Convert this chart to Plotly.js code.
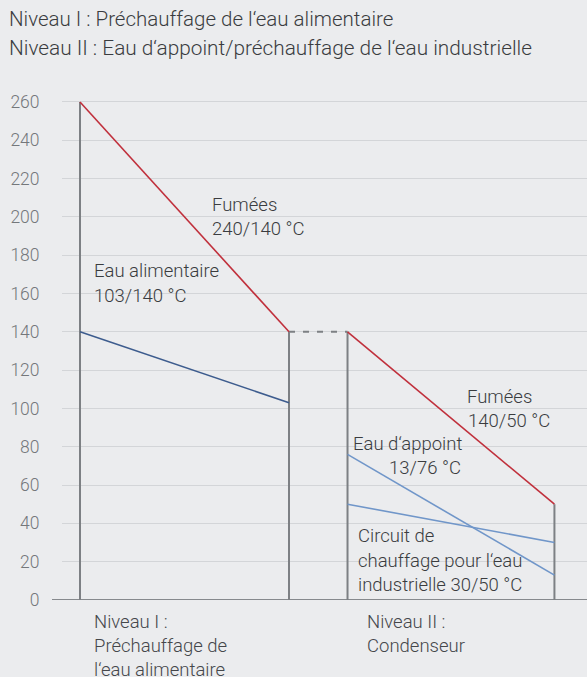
<!DOCTYPE html>
<html><head><meta charset="utf-8">
<script src="https://cdn.plot.ly/plotly-3.0.1.min.js"></script>
<style>html,body{margin:0;padding:0;background:#ebecee;}</style>
</head><body><div id="chart" style="width:587px;height:677px;"></div>
<script>
// Data
const stageIx = [0, 1];
const stageIIx = [1.28, 2.27];
const fluegasI = [260, 140];
const fluegasII = [140, 50];
const feedwater = [140, 103];
const makeupWater = [76, 13];
const industrialCircuit = [50, 30];
const yTicks = [0, 20, 40, 60, 80, 100, 120, 140, 160, 180, 200, 220, 240, 260];
const titleLines = ["Niveau I : Préchauffage de l‘eau alimentaire", "Niveau II : Eau d‘appoint/préchauffage de l‘eau industrielle"];
const stageLabels = [["Niveau I :", "Préchauffage de", "l‘eau alimentaire"], ["Niveau II :", "Condenseur"]];

const W = 587, H = 677, ML = 62, MR = 0, MT = 100, MB = 77;
const PW = W - ML - MR, PH = H - MT - MB;
const px = x => (x - ML) / PW;
const py = y => (MT + PH - y) / PH;
const FONT = 'Roboto, sans-serif';

const gray = '#7d8084', red = '#c0303c', dblue = '#3d5c8e', lblue = '#7096c9';
const traces = [];
function line(x, y, color, width, dash) {
  traces.push({x: x, y: y, mode: 'lines', type: 'scatter', hoverinfo: 'skip',
    line: {color: color, width: width, dash: dash || 'solid'}, cliponaxis: false});
}
// vertical stage boundaries
line([stageIx[0], stageIx[0]], [0, fluegasI[0]], gray, 2);
line([stageIx[1], stageIx[1]], [0, fluegasI[1]], gray, 2);
line([stageIIx[0], stageIIx[0]], [0, fluegasII[0]], gray, 2);
line([stageIIx[1], stageIIx[1]], [0, fluegasII[1]], gray, 2);
// connecting dashed line
line([stageIx[1], stageIIx[0]], [fluegasI[1], fluegasII[0]], gray, 2, '6px,8px');
// series
line(stageIx, fluegasI, red, 1.6);
line(stageIIx, fluegasII, red, 1.6);
line(stageIx, feedwater, dblue, 1.6);
line(stageIIx, makeupWater, lblue, 1.6);
line(stageIIx, industrialCircuit, lblue, 1.6);

const ann = [];
function txt(t, x, y, size, color) {
  ann.push({text: t, xref: 'paper', yref: 'paper', x: px(x), y: py(y), xanchor: 'left', yanchor: 'middle',
    showarrow: false, font: {size: size, color: color, family: FONT, weight: 300}});
}
txt(titleLines[0], 7, 19, 20.5, '#3a3c3f');
txt(titleLines[1], 7, 48, 20.8, '#3a3c3f');
const tc = '#3a3c3f', fs = 18.5;
txt('Fumées', 210, 205, fs, tc);
txt('240/140 °C', 210, 229, fs, tc);
txt('Eau alimentaire', 92, 271, fs, tc);
txt('103/140 °C', 92, 296, fs, tc);
txt('Fumées', 465, 397, fs, tc);
txt('140/50 °C', 466, 421, fs, tc);
txt('Eau d‘appoint', 351, 444, fs, tc);
txt('13/76 °C', 387, 468, fs, tc);
txt('Circuit de', 356, 536, fs, tc);
txt('chauffage pour l‘eau', 356, 561, fs, tc);
txt('industrielle 30/50 °C', 356, 585, fs, tc);
stageLabels[0].forEach((t, i) => txt(t, 92, 622 + i * 24, fs, '#45474b'));
stageLabels[1].forEach((t, i) => txt(t, 365, 622 + i * 24, fs, '#45474b'));

const xL = -(80 - ML) / 209, xR = xL + PW / 209;
const layout = {
  width: W, height: H,
  margin: {l: ML, r: MR, t: MT, b: MB, pad: 0},
  paper_bgcolor: '#ebecee', plot_bgcolor: '#ebecee',
  showlegend: false,
  font: {family: FONT},
  xaxis: {range: [xL, xR], showgrid: false, zeroline: false, showticklabels: false, showline: false, ticks: ''},
  yaxis: {range: [0, 261], tickvals: yTicks, ticktext: yTicks.map(String), showgrid: true, gridcolor: '#d3d5d8', gridwidth: 1,
    zeroline: false, showline: false, ticks: 'outside', ticklen: 0, ticklabelstandoff: 18,
    tickfont: {size: 17.5, color: '#74777b', family: FONT, weight: 300}},
  shapes: [{type: 'line', xref: 'paper', yref: 'y', x0: px(52), x1: 1, y0: 0, y1: 0, line: {color: '#86898d', width: 2}, layer: 'below'}],
  annotations: ann
};
Plotly.newPlot('chart', traces, layout, {staticPlot: true, displayModeBar: false});
</script></body></html>
